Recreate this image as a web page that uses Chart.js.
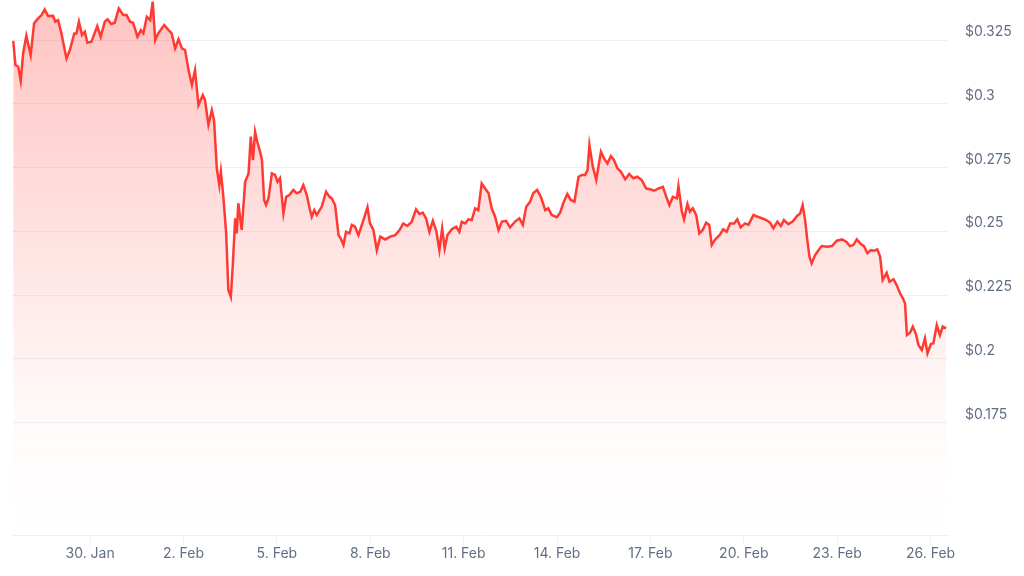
<!DOCTYPE html>
<html>
<head>
<meta charset="utf-8">
<title>Price chart</title>
<script src="https://cdn.jsdelivr.net/npm/chart.js@4.4.1/dist/chart.umd.min.js"></script>
<style>
  html, body { margin: 0; padding: 0; background: #fff; }
  #wrap { width: 1024px; height: 576px; position: relative; }
</style>
</head>
<body>
<div id="wrap"><canvas id="priceChart"></canvas></div>
<script>
// days counted from 30 Jan (0 = 30 Jan 00:00)
const days = [
  -2.47, -2.40, -2.31, -2.23, -2.15, -2.05, -1.91, -1.80, -1.67, -1.56,
  -1.46, -1.35, -1.19, -1.12, -1.03, -0.92, -0.87, -0.76, -0.65, -0.51,
  -0.44, -0.36, -0.26, -0.17, -0.09, 0.04, 0.23, 0.34, 0.47, 0.56,
  0.68, 0.79, 0.92, 1.06, 1.17, 1.28, 1.38, 1.52, 1.63, 1.71,
  1.82, 1.93, 2.01, 2.09, 2.19, 2.38, 2.52, 2.62, 2.73, 2.84,
  2.95, 3.05, 3.16, 3.27, 3.37, 3.48, 3.62, 3.69, 3.80, 3.91,
  3.98, 4.07, 4.15, 4.20, 4.28, 4.37, 4.44, 4.52, 4.58, 4.66,
  4.71, 4.76, 4.87, 4.98, 5.09, 5.16, 5.23, 5.30, 5.37, 5.46,
  5.52, 5.59, 5.65, 5.73, 5.84, 5.94, 6.02, 6.10, 6.21, 6.30,
  6.40, 6.53, 6.64, 6.75, 6.85, 6.96, 7.05, 7.12, 7.20, 7.28,
  7.44, 7.58, 7.69, 7.76, 7.87, 7.98, 8.05, 8.14, 8.22, 8.33,
  8.41, 8.51, 8.62, 8.78, 8.91, 8.99, 9.10, 9.21, 9.32, 9.48,
  9.64, 9.80, 9.94, 10.06, 10.19, 10.33, 10.47, 10.58, 10.69, 10.79,
  10.90, 11.01, 11.12, 11.22, 11.31, 11.39, 11.48, 11.62, 11.76, 11.86,
  11.94, 12.05, 12.15, 12.26, 12.37, 12.47, 12.58, 12.69, 12.80, 12.90,
  13.01, 13.12, 13.23, 13.36, 13.49, 13.65, 13.79, 13.90, 14.01, 14.13,
  14.24, 14.36, 14.48, 14.62, 14.72, 14.83, 14.99, 15.10, 15.20, 15.33,
  15.44, 15.56, 15.69, 15.80, 15.90, 15.98, 16.04, 16.15, 16.26, 16.41,
  16.51, 16.62, 16.73, 16.83, 16.94, 17.05, 17.19, 17.32, 17.45, 17.58,
  17.72, 17.86, 17.99, 18.12, 18.26, 18.40, 18.51, 18.61, 18.72, 18.85,
  18.90, 19.01, 19.08, 19.19, 19.27, 19.36, 19.47, 19.57, 19.68, 19.79,
  19.89, 19.97, 20.08, 20.22, 20.34, 20.45, 20.56, 20.69, 20.79, 20.90,
  21.04, 21.15, 21.31, 21.44, 21.58, 21.72, 21.84, 21.95, 22.08, 22.19,
  22.29, 22.43, 22.57, 22.71, 22.81, 22.89, 22.97, 23.04, 23.11, 23.18,
  23.29, 23.40, 23.50, 23.67, 23.83, 23.99, 24.15, 24.29, 24.41, 24.52,
  24.63, 24.76, 24.86, 24.97, 25.08, 25.19, 25.29, 25.38, 25.46, 25.59,
  25.68, 25.81, 25.91, 26.02, 26.11, 26.18, 26.24, 26.34, 26.43, 26.53,
  26.61, 26.72, 26.82, 26.90, 27.01, 27.09, 27.20, 27.30, 27.39, 27.50
];
const prices = [
  0.3247, 0.3152, 0.3145, 0.3090, 0.3199, 0.3267, 0.3191, 0.3316, 0.3335, 0.3348,
  0.3370, 0.3344, 0.3345, 0.3322, 0.3328, 0.3276, 0.3243, 0.3178, 0.3211, 0.3276,
  0.3276, 0.3322, 0.3270, 0.3283, 0.3239, 0.3243, 0.3305, 0.3263, 0.3322, 0.3331,
  0.3313, 0.3318, 0.3374, 0.3348, 0.3348, 0.3322, 0.3318, 0.3263, 0.3289, 0.3276,
  0.3341, 0.3328, 0.3400, 0.3250, 0.3276, 0.3309, 0.3289, 0.3276, 0.3217, 0.3253,
  0.3217, 0.3211, 0.3132, 0.3074, 0.3132, 0.2995, 0.3034, 0.3015, 0.2917, 0.2975,
  0.2936, 0.2747, 0.2681, 0.2734, 0.2635, 0.2493, 0.2270, 0.2243, 0.2361, 0.2551,
  0.2492, 0.2610, 0.2505, 0.2694, 0.2727, 0.2871, 0.2779, 0.2890, 0.2851, 0.2812,
  0.2779, 0.2623, 0.2603, 0.2629, 0.2727, 0.2721, 0.2694, 0.2708, 0.2570, 0.2635,
  0.2642, 0.2662, 0.2649, 0.2655, 0.2681, 0.2642, 0.2590, 0.2557, 0.2583, 0.2564,
  0.2596, 0.2655, 0.2635, 0.2629, 0.2603, 0.2485, 0.2472, 0.2446, 0.2498, 0.2492,
  0.2525, 0.2518, 0.2485, 0.2544, 0.2594, 0.2531, 0.2505, 0.2426, 0.2479, 0.2468,
  0.2479, 0.2485, 0.2505, 0.2531, 0.2521, 0.2537, 0.2586, 0.2568, 0.2573, 0.2551,
  0.2498, 0.2541, 0.2502, 0.2426, 0.2512, 0.2433, 0.2485, 0.2508, 0.2518, 0.2498,
  0.2537, 0.2531, 0.2547, 0.2544, 0.2590, 0.2583, 0.2688, 0.2668, 0.2649, 0.2590,
  0.2557, 0.2505, 0.2538, 0.2541, 0.2515, 0.2538, 0.2551, 0.2525, 0.2596, 0.2615,
  0.2650, 0.2662, 0.2635, 0.2583, 0.2590, 0.2564, 0.2555, 0.2573, 0.2610, 0.2646,
  0.2623, 0.2616, 0.2714, 0.2721, 0.2721, 0.2740, 0.2838, 0.2753, 0.2701, 0.2812,
  0.2786, 0.2766, 0.2795, 0.2779, 0.2747, 0.2734, 0.2704, 0.2725, 0.2708, 0.2714,
  0.2701, 0.2668, 0.2665, 0.2659, 0.2668, 0.2674, 0.2635, 0.2603, 0.2635, 0.2629,
  0.2677, 0.2577, 0.2547, 0.2607, 0.2577, 0.2590, 0.2564, 0.2492, 0.2505, 0.2534,
  0.2525, 0.2446, 0.2468, 0.2485, 0.2508, 0.2498, 0.2531, 0.2531, 0.2547, 0.2515,
  0.2531, 0.2525, 0.2564, 0.2557, 0.2551, 0.2544, 0.2534, 0.2512, 0.2538, 0.2521,
  0.2544, 0.2528, 0.2538, 0.2560, 0.2570, 0.2603, 0.2544, 0.2466, 0.2400, 0.2374,
  0.2407, 0.2426, 0.2442, 0.2439, 0.2442, 0.2463, 0.2468, 0.2459, 0.2442, 0.2446,
  0.2468, 0.2450, 0.2442, 0.2414, 0.2426, 0.2424, 0.2429, 0.2400, 0.2309, 0.2337,
  0.2302, 0.2312, 0.2289, 0.2257, 0.2237, 0.2217, 0.2093, 0.2102, 0.2126, 0.2097,
  0.2054, 0.2034, 0.2080, 0.2021, 0.2058, 0.2061, 0.2132, 0.2093, 0.2126, 0.2119
];
const tickDays = [0, 3, 6, 9, 12, 15, 18, 21, 24, 27];
const tickLabels = ['30. Jan', '2. Feb', '5. Feb', '8. Feb', '11. Feb', '14. Feb', '17. Feb', '20. Feb', '23. Feb', '26. Feb'];
const priceTicks = [0.175, 0.2, 0.225, 0.25, 0.275, 0.3, 0.325];
const priceLabels = ['$0.175', '$0.2', '$0.225', '$0.25', '$0.275', '$0.3', '$0.325'];

const lineColor = '#ff3a33';
const labelColor = '#616e85';
const gridColor = '#eff1f4';

function fillGradient(context) {
    const area = context.chart.chartArea;
    if (!area) return 'rgba(255,58,51,0.15)';
    const g = context.chart.ctx.createLinearGradient(0, area.top, 0, area.bottom);
    g.addColorStop(0, 'rgba(255,58,51,0.30)');
    g.addColorStop(0.8, 'rgba(255,58,51,0.02)');
    g.addColorStop(1, 'rgba(255,58,51,0)');
    return g;
}

const ctx = document.getElementById('priceChart').getContext('2d');
const priceChart = new Chart(ctx, {
    type: 'line',
    data: {
        datasets: [{
            label: 'Price',
            data: days.map((d, i) => ({ x: d, y: prices[i] })),
            borderColor: lineColor,
            borderWidth: 2.5,
            backgroundColor: fillGradient,
            fill: 'start',
            pointRadius: 0,
            tension: 0,
            clip: false
        }]
    },
    options: {
        responsive: true,
        maintainAspectRatio: false,
        animation: false,
        layout: { padding: { left: 12, right: 0, top: 0, bottom: 0 } },
        plugins: {
            legend: { display: false },
            tooltip: { enabled: false }
        },
        scales: {
            x: {
                type: 'linear',
                min: -2.51,
                max: 27.56,
                afterBuildTicks: (scale) => { scale.ticks = tickDays.map(v => ({ value: v })); },
                afterFit: (scale) => {
                    scale.height = 41;
                    scale.paddingLeft = 0;
                    scale.paddingRight = 0;
                },
                border: { display: true, color: gridColor, width: 1 },
                grid: { drawOnChartArea: false, drawTicks: true, tickLength: 10, color: gridColor },
                ticks: {
                    autoSkip: false,
                    maxRotation: 0,
                    padding: 0,
                    color: labelColor,
                    font: { family: 'Inter', size: 14 },
                    callback: (v, i) => tickLabels[i]
                }
            },
            y: {
                position: 'right',
                min: 0.1309,
                max: 0.3407,
                afterBuildTicks: (scale) => { scale.ticks = priceTicks.map(v => ({ value: v })); },
                afterFit: (scale) => {
                    scale.width = 76;
                    scale.paddingTop = 0;
                    scale.paddingBottom = 0;
                },
                border: { display: false },
                grid: { drawTicks: false, color: gridColor },
                ticks: {
                    padding: 17,
                    labelOffset: -8,
                    color: labelColor,
                    font: { family: 'Inter', size: 14 },
                    callback: (v, i) => priceLabels[i]
                }
            }
        }
    }
});
</script>
</body>
</html>
